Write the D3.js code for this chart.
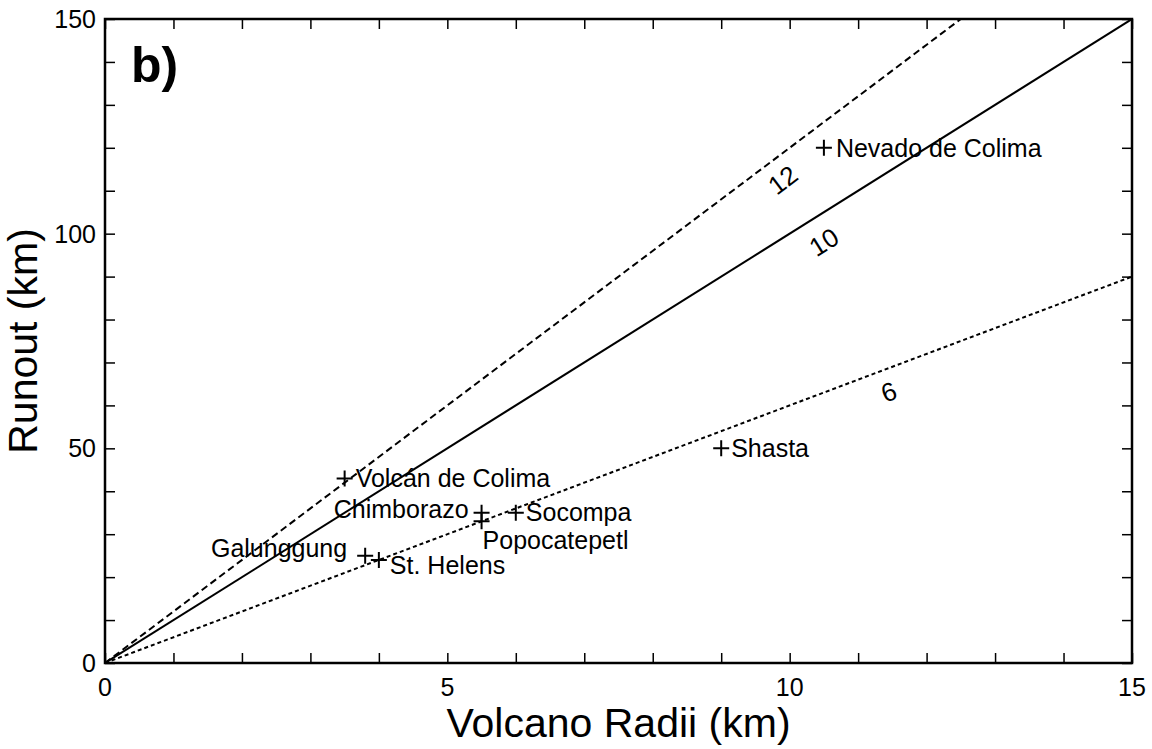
<!DOCTYPE html>
<html>
<head>
<meta charset="utf-8">
<script src="https://cdn.jsdelivr.net/npm/d3@7"></script>
<style>
  html, body { margin: 0; padding: 0; background: #fff; }
  svg { display: block; }
  text { font-family: "Liberation Sans", Arial, Helvetica, sans-serif; fill: #000; }
</style>
</head>
<body>
<svg id="chart" width="1152" height="749"></svg>
<script>
// ---- data ----
const volcanoes = ["Nevado de Colima", "Shasta", "Volcán de Colima", "Chimborazo", "Popocatepetl", "Socompa", "Galunggung", "St. Helens"];
const radii =     [10.5, 9.0, 3.5, 5.5, 5.5, 6.0, 3.8, 4.0];
const runouts =   [120,  50,  43,  35,  33,  35,  25,  24];
const ratios = [12, 10, 6];
const ratioLabelX = [9.9, 10.5, 11.45];
const ratioLabelY = [112.5, 98, 63.1];
const xTickLabels = [0, 5, 10, 15];
const yTickLabels = [0, 50, 100, 150];

// ---- layout ----
const svg = d3.select("#chart");
const L = 105, R = 1132, T = 19, B = 663;
const x = d3.scaleLinear().domain([0, 15]).range([L, R]);
const y = d3.scaleLinear().domain([0, 150]).range([B, T]);

svg.append("defs").append("clipPath").attr("id", "clip")
  .append("rect").attr("x", L).attr("y", T).attr("width", R - L).attr("height", B - T);

// ratio lines
const dashes = { 12: "7,4", 10: null, 6: "4,3" };
const g = svg.append("g").attr("clip-path", "url(#clip)");
ratios.forEach(r => {
  const xEnd = Math.min(15, 150 / r);
  g.append("line")
    .attr("x1", x(0)).attr("y1", y(0))
    .attr("x2", x(xEnd)).attr("y2", y(r * xEnd))
    .attr("stroke", "#000").attr("stroke-width", 2)
    .attr("stroke-dasharray", dashes[r]);
});

// ratio labels
ratios.forEach((r, i) => {
  const ang = -Math.atan2(y(0) - y(r), x(1) - x(0)) * 180 / Math.PI;
  svg.append("text")
    .attr("transform", `translate(${x(ratioLabelX[i])},${y(ratioLabelY[i])}) rotate(${ang})`)
    .attr("text-anchor", "middle").attr("dominant-baseline", "central")
    .attr("font-size", 26).text(r);
});

// axes (ticks inward, on all four sides)
const tickLen = 10;
const axB = d3.axisBottom(x).ticks(15).tickSize(-tickLen).tickFormat("");
const axT = d3.axisTop(x).ticks(15).tickSize(-tickLen).tickFormat("");
const axLft = d3.axisLeft(y).ticks(15).tickSize(-tickLen).tickFormat("");
const axRt = d3.axisRight(y).ticks(15).tickSize(-tickLen).tickFormat("");
[[axB, `translate(0,${B})`], [axT, `translate(0,${T})`], [axLft, `translate(${L},0)`], [axRt, `translate(${R},0)`]]
  .forEach(([a, tr]) => {
    const ga = svg.append("g").attr("transform", tr).call(a);
    ga.select(".domain").remove();
    ga.selectAll("line").attr("stroke", "#000").attr("stroke-width", 1.5);
  });
svg.append("rect").attr("x", L).attr("y", T).attr("width", R - L).attr("height", B - T)
  .attr("fill", "none").attr("stroke", "#000").attr("stroke-width", 2.5);

// tick labels
svg.append("g").selectAll("text").data(xTickLabels).join("text")
  .attr("x", d => x(d)).attr("y", 696).attr("text-anchor", "middle")
  .attr("font-size", 25).text(d => d);
svg.append("g").selectAll("text").data(yTickLabels).join("text")
  .attr("x", L - 9).attr("y", d => y(d) + 9).attr("text-anchor", "end")
  .attr("font-size", 25).text(d => d);

// axis titles
svg.append("text").attr("x", (L + R) / 2).attr("y", 737).attr("text-anchor", "middle")
  .attr("font-size", 41).text("Volcano Radii (km)");
svg.append("text").attr("transform", `translate(37,${(T + B) / 2}) rotate(-90)`)
  .attr("text-anchor", "middle").attr("font-size", 41).text("Runout (km)");

// panel label
svg.append("text").attr("x", 131).attr("y", 82).attr("font-size", 50)
  .attr("font-weight", "bold").text("b)");

// points
const pts = volcanoes.map((n, i) => ({ name: n, r: radii[i], o: runouts[i] }));
svg.append("g").selectAll("path").data(pts).join("path")
  .attr("d", "M-8,0H8M0,-8V8")
  .attr("transform", d => `translate(${x(d.r)},${y(d.o)})`)
  .attr("stroke", "#000").attr("stroke-width", 2).attr("fill", "none");

// point labels: offsets relative to marker
const labelOff = {
  "Nevado de Colima": [12, 9, "start"],
  "Shasta": [10, 9, "start"],
  "Volcán de Colima": [11, 9, "start"],
  "Chimborazo": [-13, 5, "end"],
  "Popocatepetl": [1, 28, "start"],
  "Socompa": [10, 8, "start"],
  "Galunggung": [-18, 1, "end"],
  "St. Helens": [11, 14, "start"]
};
svg.append("g").selectAll("text").data(pts).join("text")
  .attr("x", d => x(d.r) + labelOff[d.name][0])
  .attr("y", d => y(d.o) + labelOff[d.name][1])
  .attr("text-anchor", d => labelOff[d.name][2])
  .attr("font-size", 25).text(d => d.name);
</script>
</body>
</html>
